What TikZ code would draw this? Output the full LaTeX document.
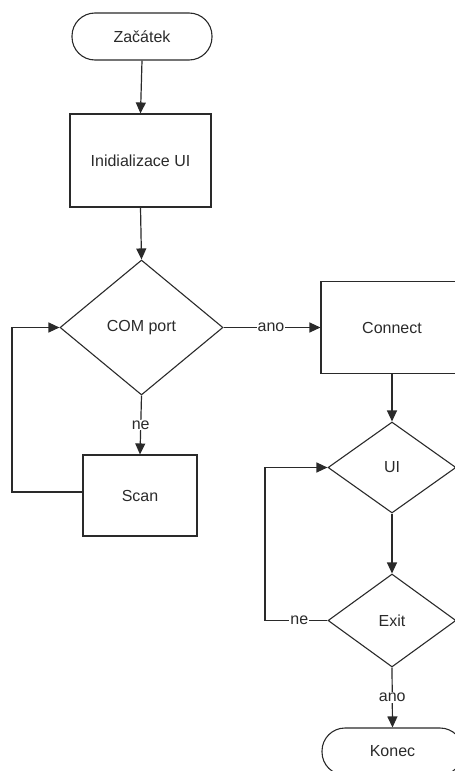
\documentclass[tikz,border=0pt]{standalone}
\usepackage{fontspec}
\setmainfont{Liberation Sans}
\usetikzlibrary{shapes.geometric,arrows.meta}
\definecolor{ink}{HTML}{2A2A2A}
\tikzset{
  x=1pt,y=-1pt,
  every node/.style={font=\fontsize{16}{18}\selectfont, text=ink},
  box/.style={draw=ink, line width=1.1pt, rectangle, inner sep=0pt},
  term/.style={draw=ink, line width=1.1pt, rectangle, rounded corners=23pt, inner sep=0pt, minimum height=47pt},
  dia/.style={draw=ink, line width=1.1pt, diamond, inner sep=0pt},
  conn/.style={draw=ink, line width=1.2pt, -{Triangle[length=11pt,width=10pt]}},
  lbl/.style={fill=white, inner sep=1pt}
}
\begin{document}
\begin{tikzpicture}
\useasboundingbox (0,0) rectangle (455,771);
\clip (0,0) rectangle (455,771);
\node[term, minimum width=140pt] (start) at (142,36.5) {Začátek};
\node[box, minimum width=141pt, minimum height=93pt] (init) at (140.5,160.5) {Inidializace UI};
\node[dia, minimum width=163pt, minimum height=135pt] (com) at (141.5,327.5) {COM port};
\node[box, minimum width=114pt, minimum height=81pt] (scan) at (140,495.5) {Scan};
\node[box, minimum width=142pt, minimum height=92pt] (connect) at (392,327.5) {Connect};
\node[dia, minimum width=128pt, minimum height=91pt] (ui) at (392,467.5) {UI};
\node[dia, minimum width=128pt, minimum height=93pt] (exit) at (392,620.5) {Exit};
\node[term, minimum width=141pt] (konec) at (392.5,751.5) {Konec};
\coordinate (l1a) at (12,492);
\coordinate (l1b) at (12,327.5);
\coordinate (l2a) at (265,620.5);
\coordinate (l2b) at (265,467.5);

\draw[conn] (start.south) -- (init.north);
\draw[conn] (init.south) -- (com.north);
\draw[conn] (com.east) -- node[lbl, pos=0.49] {ano} (connect.west);
\draw[conn] (com.south) -- node[lbl, pos=0.5] {ne} (scan.north);
\draw[conn] (scan.west |- l1a) -- (l1a) -- (l1b) -- (com.west);
\draw[conn] (connect.south) -- (ui.north);
\draw[conn] (ui.south) -- (exit.north);
\draw[conn] (exit.west) -- node[lbl, pos=0.45] {ne} (l2a) -- (l2b) -- (ui.west);
\draw[conn] (exit.south) -- node[lbl, pos=0.5] {ano} (konec.north);
\end{tikzpicture}
\end{document}
